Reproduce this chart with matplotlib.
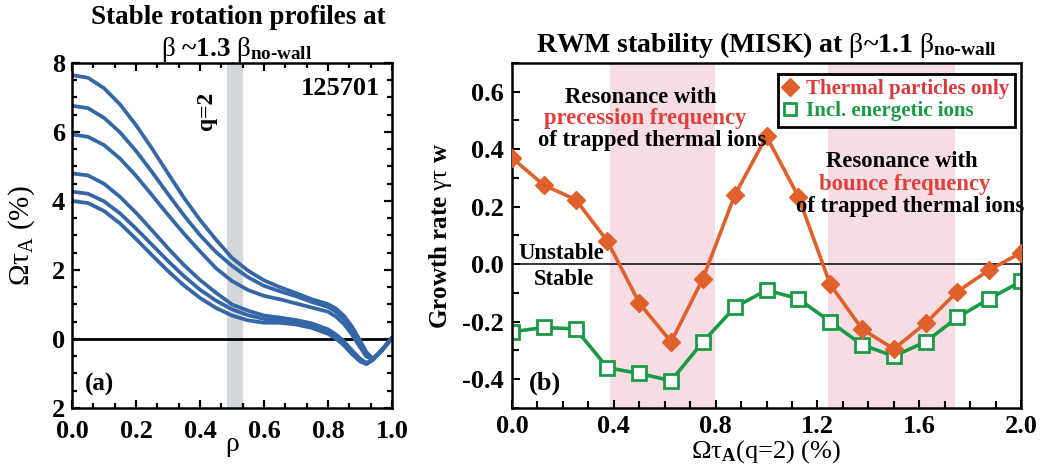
import matplotlib
matplotlib.use("Agg")
import matplotlib.pyplot as plt
from matplotlib.lines import Line2D
from matplotlib.ticker import MultipleLocator, FixedLocator, FixedFormatter, FormatStrFormatter

# ---- panel (a): rotation profiles, shot 125701 ----
rho = [0.0, 0.05, 0.1, 0.15, 0.2, 0.25, 0.3, 0.35, 0.4, 0.45, 0.5, 0.55, 0.6,
       0.65, 0.7, 0.75, 0.8, 0.825, 0.85, 0.875, 0.9, 0.92, 0.94, 0.97, 1.0]
profile_1 = [7.65, 7.57, 7.27, 6.80, 6.20, 5.52, 4.80, 4.09, 3.45, 2.88, 2.35, 1.98, 1.70,
             1.50, 1.33, 1.15, 1.01, 0.88, 0.67, 0.36, -0.04, -0.38, -0.57, -0.32, 0.03]
profile_2 = [6.76, 6.69, 6.41, 5.99, 5.45, 4.84, 4.20, 3.58, 3.01, 2.52, 2.12, 1.79, 1.54,
             1.38, 1.24, 1.07, 0.93, 0.79, 0.58, 0.28, -0.11, -0.44, -0.58, -0.32, 0.03]
profile_3 = [5.93, 5.86, 5.62, 5.23, 4.73, 4.17, 3.60, 3.05, 2.54, 2.05, 1.68, 1.42, 1.25,
             1.15, 1.03, 0.91, 0.79, 0.65, 0.43, 0.13, -0.24, -0.51, -0.59, -0.31, 0.03]
profile_4 = [4.80, 4.74, 4.50, 4.12, 3.66, 3.15, 2.63, 2.14, 1.71, 1.34, 1.00, 0.82, 0.68,
             0.62, 0.55, 0.45, 0.28, 0.13, -0.07, -0.33, -0.57, -0.69, -0.60, -0.30, 0.03]
profile_5 = [4.27, 4.21, 3.99, 3.64, 3.20, 2.73, 2.26, 1.82, 1.43, 1.11, 0.86, 0.69, 0.58,
             0.54, 0.48, 0.38, 0.21, 0.07, -0.13, -0.39, -0.61, -0.71, -0.60, -0.30, 0.03]
profile_6 = [4.00, 3.94, 3.71, 3.35, 2.90, 2.43, 1.97, 1.55, 1.19, 0.90, 0.68, 0.54, 0.47,
             0.47, 0.42, 0.32, 0.15, 0.01, -0.19, -0.44, -0.65, -0.73, -0.61, -0.30, 0.03]
q2_band = [0.485, 0.535]
yticks_a = [-2, 0, 2, 4, 6, 8]
ytick_labels_a = ["2", "0", "2", "4", "6", "8"]

# ---- panel (b): MISK growth rate vs rotation at q=2 ----
rot_q2 = [0.0, 0.125, 0.25, 0.375, 0.5, 0.625, 0.75, 0.875, 1.0, 1.125, 1.25,
          1.375, 1.5, 1.625, 1.75, 1.875, 2.0]
growth_thermal = [0.37, 0.275, 0.225, 0.08, -0.135, -0.27, -0.05, 0.24, 0.445, 0.235,
                  -0.07, -0.225, -0.295, -0.205, -0.095, -0.02, 0.04]
growth_energetic = [-0.235, -0.22, -0.225, -0.36, -0.38, -0.405, -0.27, -0.15, -0.09,
                    -0.12, -0.2, -0.28, -0.32, -0.27, -0.185, -0.12, -0.06]
precession_band = [0.386, 0.796]
bounce_band = [1.241, 1.741]

BLUE = "#3567a6"
ORANGE = "#e0602c"
GREEN = "#1b9a45"
RED_TXT = "#e0403c"
GREY_BAND = "#d3d7d9"
PINK_BAND = "#f6dde3"

plt.rcParams.update({
    "font.family": "Liberation Serif",
    "font.weight": "bold",
    "mathtext.fontset": "custom",
    "mathtext.rm": "Liberation Serif:weight=normal",
    "mathtext.bf": "Liberation Serif:weight=bold",
    "mathtext.it": "Liberation Serif:style=italic:weight=normal",
    "axes.unicode_minus": False,
    "axes.linewidth": 1.8,
})

fig = plt.figure(figsize=(10.42, 4.71), dpi=100)
ax1 = fig.add_axes([0.0691, 0.1338, 0.3071, 0.7325])
ax2 = fig.add_axes([0.4914, 0.1338, 0.4885, 0.7325])

# ---------------- panel (a) ----------------
ax1.axvspan(*q2_band, color=GREY_BAND, lw=0, zorder=0)
ax1.axhline(0, color="black", lw=2, zorder=1)
for prof in [profile_1, profile_2, profile_3, profile_4, profile_5, profile_6]:
    ax1.plot(rho, prof, color=BLUE, lw=2.7, solid_capstyle="round",
             solid_joinstyle="round", zorder=2)
ax1.set_xlim(0, 1)
ax1.set_ylim(-2, 8)
ax1.xaxis.set_major_locator(MultipleLocator(0.2))
ax1.xaxis.set_minor_locator(MultipleLocator(0.2 / 3))
ax1.yaxis.set_major_locator(FixedLocator(yticks_a))
ax1.yaxis.set_major_formatter(FixedFormatter(ytick_labels_a))
ax1.yaxis.set_minor_locator(MultipleLocator(0.5))
ax1.xaxis.set_major_formatter(FormatStrFormatter("%.1f"))
ax1.tick_params(which="both", direction="in", top=True, right=True, width=1.6,
                labelsize=19)
ax1.tick_params(which="major", length=6, pad=5)
ax1.tick_params(axis="x", which="major", pad=9)
ax1.tick_params(which="minor", length=3.5)
ax1.set_xlabel("ρ", fontweight="normal", fontsize=20, labelpad=-8)
ax1.set_ylabel(r"$\mathrm{Ωτ}_{\mathrm{A}}$ (%)", fontweight="normal", fontsize=21,
               labelpad=11)
ax1.text(0.42, 6.6, "q=2", rotation=90, ha="center", va="center", fontsize=17)
ax1.text(0.962, 7.27, "125701", ha="right", va="center", fontsize=19)
ax1.text(0.04, -1.33, "(a)", ha="left", va="center", fontsize=18)

fig.text(0.229, 0.962, "Stable rotation profiles at", ha="center", va="center",
         fontsize=19.5)
fig.text(0.227, 0.895, r"$\mathrm{β}$ ~1.3 $\mathrm{β}_{\mathbf{no‐wall}}$",
         ha="center", va="center", fontsize=19.5)

# ---------------- panel (b) ----------------
for band in (precession_band, bounce_band):
    ax2.axvspan(*band, color=PINK_BAND, lw=0, zorder=0)
ax2.axhline(0, color="black", lw=1.1, zorder=1)
ax2.plot(rot_q2, growth_thermal, color=ORANGE, lw=2.6, marker="D", ms=9,
         mec=ORANGE, mfc=ORANGE, zorder=3)
ax2.plot(rot_q2, growth_energetic, color=GREEN, lw=2.6, marker="s", ms=10.5,
         mec=GREEN, mfc="white", mew=2, zorder=2)
ax2.set_xlim(0, 2)
ax2.set_ylim(-0.5, 0.7)
ax2.xaxis.set_major_locator(MultipleLocator(0.4))
ax2.xaxis.set_minor_locator(MultipleLocator(0.1))
ax2.yaxis.set_major_locator(MultipleLocator(0.2))
ax2.yaxis.set_minor_locator(MultipleLocator(0.1))
ax2.xaxis.set_major_formatter(FormatStrFormatter("%.1f"))
ax2.yaxis.set_major_formatter(FormatStrFormatter("%.1f"))
ax2.tick_params(which="both", direction="in", width=1.5, labelsize=19)
ax2.tick_params(which="major", length=6, pad=6)
ax2.tick_params(axis="x", which="major", pad=5)
ax2.tick_params(which="minor", length=5)
ax2.set_xlabel(r"$\mathrm{Ωτ}_{\mathbf{A}}$(q=2) (%)", fontweight="normal",
               fontsize=19, labelpad=0)
ax2.set_ylabel(r"Growth rate $\mathrm{γτ}$ w", fontweight="bold", fontsize=18,
               labelpad=6)

ANN = 16.3
ax2.text(0.505, 0.58, "Resonance with", ha="center", va="center", fontsize=ANN)
ax2.text(0.525, 0.508, "precession frequency", ha="center", va="center",
         fontsize=ANN, color=RED_TXT)
ax2.text(0.55, 0.431, "of trapped thermal ions", ha="center", va="center",
         fontsize=ANN)
ax2.text(1.53, 0.356, "Resonance with", ha="center", va="center", fontsize=ANN)
ax2.text(1.544, 0.278, "bounce frequency", ha="center", va="center",
         fontsize=ANN, color=RED_TXT)
ax2.text(1.565, 0.20, "of trapped thermal ions", ha="center", va="center",
         fontsize=ANN)
ax2.text(0.195, 0.039, "Unstable", ha="center", va="center", fontsize=ANN)
ax2.text(0.205, -0.053, "Stable", ha="center", va="center", fontsize=ANN)
ax2.text(0.068, -0.415, "(b)", ha="left", va="center", fontsize=19)

handles = [
    Line2D([], [], ls="none", marker="D", ms=9, mec=ORANGE, mfc=ORANGE),
    Line2D([], [], ls="none", marker="s", ms=9, mec=GREEN, mfc="white", mew=2),
]
leg = ax2.legend(handles, ["Thermal particles only", "Incl. energetic ions"],
                 loc="upper right", bbox_to_anchor=(0.988, 0.968), fontsize=15,
                 handlelength=0.6, handletextpad=0.5, borderpad=0.25,
                 labelspacing=0.1, fancybox=False, framealpha=1,
                 edgecolor="black", borderaxespad=0)
leg.get_frame().set_linewidth(2)
leg.get_texts()[0].set_color("#d8393d")
leg.get_texts()[1].set_color(GREEN)

fig.text(0.735, 0.905, r"RWM stability (MISK) at $\mathrm{β}$~1.1 $\mathrm{β}_{\mathbf{no‐wall}}$",
         ha="center", va="center", fontsize=20)

fig.savefig("out.png", dpi=100)
